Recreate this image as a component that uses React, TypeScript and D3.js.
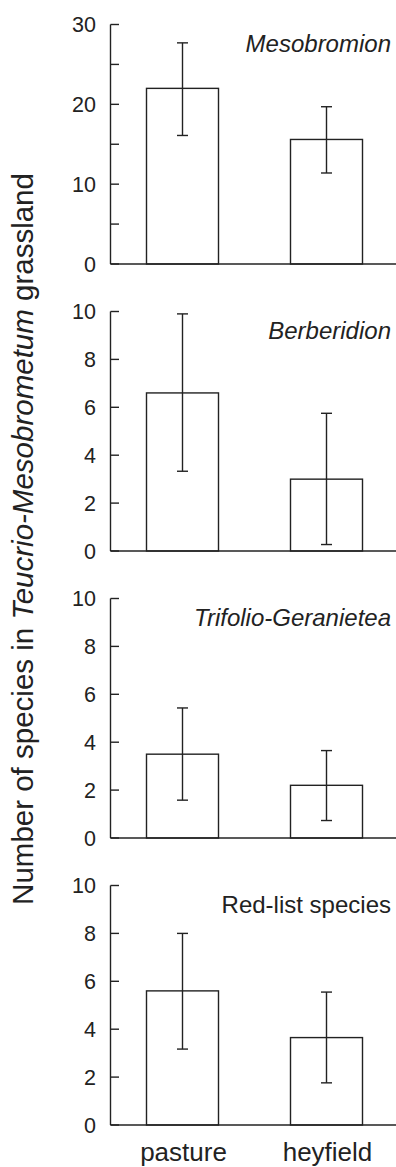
import * as d3 from "d3";

// groups on the x axis
const groups = ["pasture", "heyfield"];

// panel titles
const panelNames = ["Mesobromion", "Berberidion", "Trifolio-Geranietea", "Red-list species"];
const panelItalic = [true, true, true, false];
const panelMax = [30, 10, 10, 10];
const panelTickStep = [10, 2, 2, 2];
const panelMinorStep = [5, 0, 0, 0];

// mean values (pasture, heyfield)
const mesobromionMean = [22.0, 15.6];
const berberidionMean = [6.6, 3.0];
const trifolioMean = [3.5, 2.2];
const redListMean = [5.6, 3.65];

// error bar upper ends
const mesobromionHigh = [27.7, 19.7];
const berberidionHigh = [9.9, 5.75];
const trifolioHigh = [5.43, 3.65];
const redListHigh = [8.0, 5.55];

// error bar lower ends
const mesobromionLow = [16.1, 11.4];
const berberidionLow = [3.33, 0.27];
const trifolioLow = [1.58, 0.73];
const redListLow = [3.17, 1.76];

const means = [mesobromionMean, berberidionMean, trifolioMean, redListMean];
const highs = [mesobromionHigh, berberidionHigh, trifolioHigh, redListHigh];
const lows = [mesobromionLow, berberidionLow, trifolioLow, redListLow];

const W = 396;
const H = 1167;
const axisX = 110.5;
const firstTop = 24.5;
const panelStep = 287;
const panelH = 239.5;
const ink = "#222";
const font = "'Liberation Sans', Arial, Helvetica, sans-serif";

export default function App() {
  const x = d3.scaleBand<string>()
    .domain(groups)
    .range([axisX, axisX + 288])
    .paddingInner(0.5)
    .paddingOuter(0.25);

  return (
    <svg width={W} height={H} style={{ position: "absolute", left: 0, top: 0, background: "#fff" }}
      fontFamily={font}>
      {panelNames.map((name, i) => {
        const top = firstTop + i * panelStep;
        const y = d3.scaleLinear().domain([0, panelMax[i]]).range([top + panelH, top]);
        const major = d3.range(0, panelMax[i] + 0.001, panelTickStep[i]);
        const minor = panelMinorStep[i]
          ? d3.range(panelMinorStep[i], panelMax[i], panelTickStep[i])
          : [];
        return (
          <g key={name}>
            {groups.map((g, j) => {
              const bx = x(g)!;
              const cx = bx + x.bandwidth() / 2;
              return (
                <g key={g} stroke={ink} strokeWidth={1.4} fill="none">
                  <rect x={bx} y={y(means[i][j])} width={x.bandwidth()}
                    height={y(0) - y(means[i][j])} fill="#fff" />
                  <line x1={cx} x2={cx} y1={y(highs[i][j])} y2={y(lows[i][j])} />
                  <line x1={cx - 5.5} x2={cx + 5.5} y1={y(highs[i][j])} y2={y(highs[i][j])} />
                  <line x1={cx - 5.5} x2={cx + 5.5} y1={y(lows[i][j])} y2={y(lows[i][j])} />
                </g>
              );
            })}
            <line x1={axisX} x2={axisX} y1={y(panelMax[i])} y2={y(0)} stroke={ink} strokeWidth={1.4} />
            <line x1={axisX} x2={W} y1={y(0)} y2={y(0)} stroke={ink} strokeWidth={1.5} />
            {major.concat(minor).map(t => (
              <line key={"t" + t} x1={axisX} x2={axisX + 8.5} y1={y(t)} y2={y(t)}
                stroke={ink} strokeWidth={1.4} />
            ))}
            {major.map(t => (
              <text key={"l" + t} x={96} y={y(t)} dy="0.36em" textAnchor="end"
                fontSize={21.5} fill={ink}>{t}</text>
            ))}
            <text x={391} y={top + 27} textAnchor="end" fontSize={24}
              fontStyle={panelItalic[i] ? "italic" : "normal"} fill={ink}>{name}</text>
          </g>
        );
      })}
      {groups.map(g => (
        <text key={g} x={x(g)! + x.bandwidth() / 2 + 1} y={1161} textAnchor="middle"
          fontSize={26} fill={ink}>{g}</text>
      ))}
      <text transform="translate(33,539) rotate(-90)" textAnchor="middle" fontSize={29.5} fill={ink}>
        Number of species in <tspan fontStyle="italic">Teucrio-Mesobrometum</tspan> grassland
      </text>
    </svg>
  );
}
